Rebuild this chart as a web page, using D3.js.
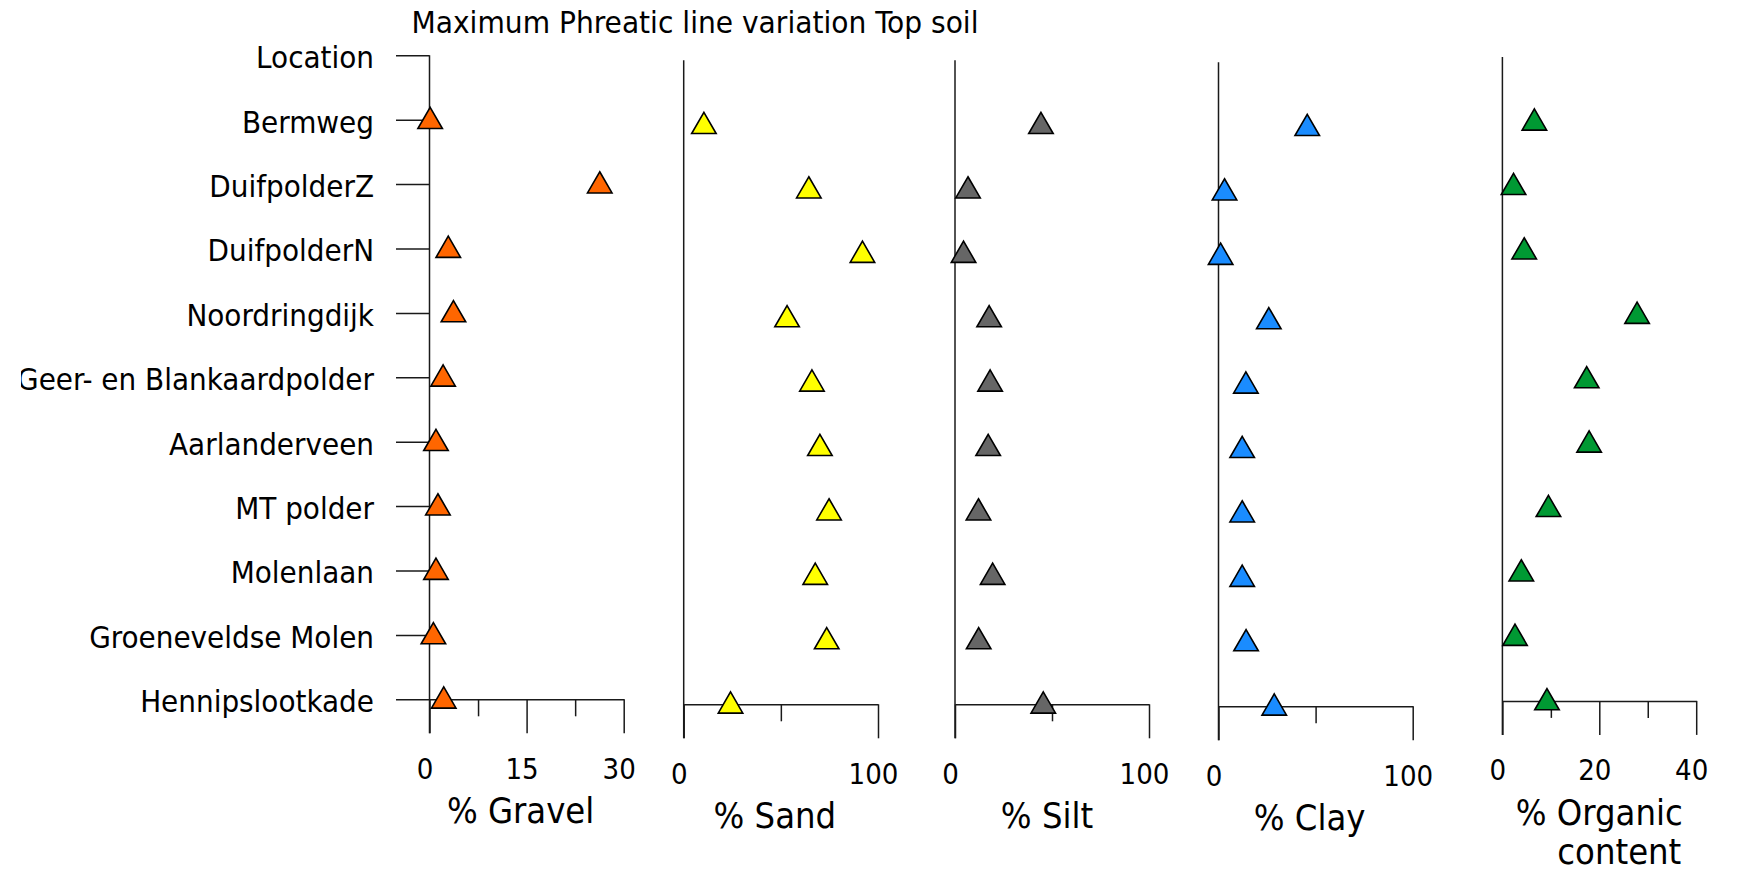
<!DOCTYPE html>
<html>
<head>
<meta charset="utf-8">
<script src="https://cdn.jsdelivr.net/npm/d3@7"></script>
<style>
html,body{margin:0;padding:0;background:#fff;}
svg{display:block;}
text{font-family:"DejaVu Sans Condensed","DejaVu Sans",sans-serif;fill:#000;}
</style>
</head>
<body>
<svg id="chart" width="1737" height="873"></svg>
<script>
// ---- data ----
const title = "Maximum Phreatic line variation Top soil";
const categories = ["Location","Bermweg","DuifpolderZ","DuifpolderN","Noordringdijk",
  "Geer- en Blankaardpolder","Aarlanderveen","MT polder","Molenlaan","Groeneveldse Molen","Hennipslootkade"];
const sites = categories.slice(1);
const gravel  = [0.1, 26.3, 2.9, 3.7, 2.1, 1.0, 1.3, 1.0, 0.6, 2.2];
const sand    = [10.4, 64.4, 92.0, 53.2, 66.0, 70.1, 74.8, 67.7, 73.6, 24.1];
const silt    = [44.3, 6.7, 4.4, 17.6, 18.1, 17.1, 12.1, 19.4, 12.2, 45.5];
const clay    = [45.7, 3.1, 1.1, 25.9, 14.1, 12.2, 12.2, 12.2, 14.2, 28.7];
const organic = [6.6, 2.3, 4.5, 27.8, 17.4, 17.9, 9.5, 3.9, 2.6, 9.2];
const gravelMajor = [0,15,30], gravelMinor = [7.5,22.5];
const pctMajor = [0,100], pctMinor = [50];
const orgMajor = [0,20,40], orgMinor = [10,30];
const axisTitles = [["% Gravel"],["% Sand"],["% Silt"],["% Clay"],["% Organic","content"]];

// ---- layout ----
const panels = [
  {values: gravel,  domain:[0,30],  major:gravelMajor, minor:gravelMinor, x0:429.5, x1:623.7,  off:0,   color:"#FF6600", tdx:-6},
  {values: sand,    domain:[0,100], major:pctMajor,    minor:pctMinor,    x0:683.7, x1:878,    off:5,   color:"#FFFF00", tdx:-6},
  {values: silt,    domain:[0,100], major:pctMajor,    minor:pctMinor,    x0:955,   x1:1149,   off:5,   color:"#666666", tdx:-5},
  {values: clay,    domain:[0,100], major:pctMajor,    minor:pctMinor,    x0:1218.5,x1:1412.7, off:7,   color:"#1A8CFF", tdx:-6},
  {values: organic, domain:[0,40],  major:orgMajor,    minor:orgMinor,    x0:1502.4,x1:1696.2, off:1.6, color:"#009933", tdx:0}
];
const rowTop = 55.3, rowBottom = 699.3;
const majorLen = 34, minorLen = 17;
const stroke = "#1a1a1a";

const svg = d3.select("#chart");

// title
svg.append("text").attr("x",411.5).attr("y",33.3)
  .attr("textLength",567).attr("lengthAdjust","spacingAndGlyphs")
  .style("font-size","30.5px").text(title);

// clip for location labels (reference is cut on the left)
svg.append("clipPath").attr("id","lblclip")
  .append("rect").attr("x",21).attr("y",0).attr("width",1716).attr("height",873);

const tri = d3.symbol().type(d3.symbolTriangle).size(260);

panels.forEach((p,i)=>{
  const y = d3.scalePoint().domain(categories).range([rowTop+p.off,rowBottom+p.off]);
  const x = d3.scaleLinear().domain(p.domain).range([p.x0,p.x1]);
  const baseY = y("Hennipslootkade");
  const g = svg.append("g");

  // vertical axis
  if(i===0){
    g.attr("clip-path","url(#lblclip)");
    const ya = d3.axisLeft(y).tickSize(33.5).tickPadding(22);
    const ga = g.append("g").attr("transform",`translate(${p.x0},0)`).call(ya);
    ga.attr("font-family",null).attr("font-size",null);
    ga.select(".domain").remove();
    ga.selectAll("line").attr("stroke",stroke).attr("stroke-width",1.5);
    ga.selectAll("text").style("font-size","31px").attr("dy","0.4em");
  }
  g.append("line").attr("x1",p.x0).attr("x2",p.x0)
    .attr("y1",y("Location")).attr("y2",baseY+majorLen)
    .attr("stroke",stroke).attr("stroke-width",1.5);

  // bottom axis: major
  const xa = d3.axisBottom(x).tickValues(p.major).tickSize(majorLen).tickSizeOuter(0).tickPadding(25);
  const gx = g.append("g").attr("transform",`translate(0,${baseY})`).call(xa);
  gx.attr("font-family",null).attr("font-size",null);
  gx.select(".domain").attr("stroke",stroke).attr("stroke-width",1.5);
  gx.selectAll(".tick line").attr("stroke",stroke).attr("stroke-width",1.5);
  gx.selectAll(".tick text").style("font-size","29px").attr("dx",-5);
  // minor ticks
  const xm = d3.axisBottom(x).tickValues(p.minor).tickSize(minorLen).tickFormat("");
  const gm = g.append("g").attr("transform",`translate(0,${baseY})`).call(xm);
  gm.select(".domain").remove();
  gm.selectAll(".tick line").attr("stroke",stroke).attr("stroke-width",1.5);

  // markers
  g.selectAll("path.mk").data(sites).join("path").attr("class","mk")
    .attr("d",tri)
    .attr("transform",(d,j)=>`translate(${x(p.values[j])},${y(d)+1.8})`)
    .attr("fill",p.color).attr("stroke","#000").attr("stroke-width",1.6)
    .attr("stroke-linejoin","miter");

  // axis title
  const cx = (p.x0+p.x1)/2 + p.tdx;
  axisTitles[i].forEach((t,k)=>{
    g.append("text").attr("x",cx + (k===1?20:0))
      .attr("y",baseY+majorLen+90 + k*39.5)
      .attr("text-anchor","middle").style("font-size","36px").text(t);
  });
});
</script>
</body>
</html>
